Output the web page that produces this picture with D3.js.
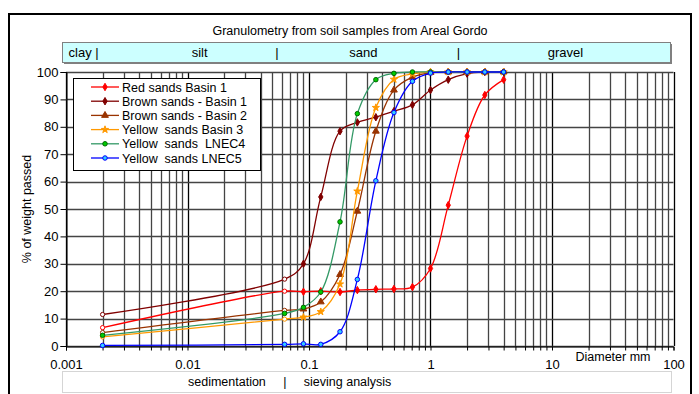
<!DOCTYPE html>
<html>
<head>
<meta charset="utf-8">
<script src="https://cdn.jsdelivr.net/npm/d3@7"></script>
<style>
  body { margin: 0; background: #fff; }
  svg { font-family: "Liberation Sans", Arial, sans-serif; }
</style>
</head>
<body>
<div id="chart"></div>
<script>
var width = 699, height = 394;
// plot area
var margin = {top: 72, right: 25, bottom: 48, left: 66};

// sieve / sedimentation diameters (mm)
const diameters = [0.002, 0.063, 0.09, 0.125, 0.18, 0.25, 0.355, 0.5, 0.71, 1, 1.4, 2, 2.8, 4];

// % of weight passed per sample
const redBasin1    = [6.7, 20.0, 19.8, 20.0, 19.7, 20.4, 20.7, 20.8, 21.5, 28.3, 51.4, 76.6, 91.6, 97.2];
const brownBasin1  = [11.5, 24.4, 30.0, 54.4, 78.4, 81.6, 83.5, 85.7, 88.0, 93.4, 97.2, 99.4, 100, 100];
const brownBasin2  = [4.9, 13.0, 13.5, 16.1, 26.1, 49.2, 78.4, 93.4, 98.1, 99.8, 100, 100, 100, 100];
const yellowBasin3 = [3.3, 9.8, 10.5, 12.5, 22.6, 56.5, 87.0, 97.3, 99.3, 100, 100, 100, 100, 100];
const yellowLnec4  = [3.9, 11.9, 14.1, 19.7, 45.3, 84.8, 97.2, 99.5, 100, 100, 100, 100, 100, 100];
const yellowLnec5  = [0.2, 0.6, 0.8, 0.6, 5.2, 24.3, 60.3, 85.2, 96.6, 99.6, 100, 100, 100, 100];

const seriesNames = ["Red sands Basin 1", "Brown sands - Basin 1", "Brown sands - Basin 2",
                     "Yellow  sands Basin 3", "Yellow  sands  LNEC4", "Yellow  sands LNEC5"];
const seriesValues = [redBasin1, brownBasin1, brownBasin2, yellowBasin3, yellowLnec4, yellowLnec5];

const yTicks = [0, 10, 20, 30, 40, 50, 60, 70, 80, 90, 100];
const xLabels = [0.001, 0.01, 0.1, 1, 10, 100];
const bandLabels = [
  {text: "clay |", x: 0.00105, anchor: "start"},
  {text: "silt", x: 0.0126, anchor: "middle"},
  {text: "|", x: 0.0545, anchor: "middle"},
  {text: "sand", x: 0.28, anchor: "middle"},
  {text: "|", x: 1.7, anchor: "middle"},
  {text: "gravel", x: 12.9, anchor: "middle"}
];

// look of each series
var styles = [
  {line: "#ff0000", fill: "#ff0000", stroke: "#ff0000", shape: d3.symbolDiamond, size: 16, hollowSed: true},
  {line: "#800000", fill: "#800000", stroke: "#800000", shape: d3.symbolDiamond, size: 16, hollowSed: true},
  {line: "#993300", fill: "#993300", stroke: "#993300", shape: d3.symbolTriangle, size: 20, hollowSed: true},
  {line: "#ff9900", fill: "#ff9900", stroke: "#ff9900", shape: d3.symbolStar, size: 16, hollowSed: true},
  {line: "#339966", fill: "#00cc00", stroke: "#006600", shape: d3.symbolCircle, size: 16, hollowSed: false},
  {line: "#0000ff", fill: "#33ccff", stroke: "#0000ff", shape: d3.symbolCircle, size: 16, hollowSed: false}
];

var svg = d3.select("#chart").append("svg")
    .attr("width", width)
    .attr("height", height);

// outer frame
svg.append("rect")
    .attr("x", 9).attr("y", 14)
    .attr("width", 682).attr("height", 392)
    .attr("fill", "none").attr("stroke", "#000").attr("stroke-width", 2);

svg.append("text")
    .attr("x", 350).attr("y", 35)
    .attr("text-anchor", "middle")
    .style("font-size", "12.5px")
    .text("Granulometry from soil samples from Areal Gordo");

var x = d3.scaleLog().domain([0.001, 100]).range([margin.left, width - margin.right - 0.5]);
var y = d3.scaleLinear().domain([0, 100]).range([height - margin.bottom, margin.top]);

// soil class band
svg.append("rect")
    .attr("x", 64).attr("y", 44).attr("width", 608).attr("height", 20)
    .attr("fill", "#808080");
svg.append("rect")
    .attr("x", 62.5).attr("y", 42.5).attr("width", 608).attr("height", 20)
    .attr("fill", "#ccffff").attr("stroke", "#808080");
svg.selectAll(".band")
    .data(bandLabels)
    .enter().append("text")
    .attr("x", function(d) { return x(d.x); })
    .attr("y", 57)
    .attr("text-anchor", function(d) { return d.anchor; })
    .style("font-size", "13px")
    .text(function(d) { return d.text; });

// grid lines
var gridX = [];
[0.001, 0.01, 0.1, 1, 10].forEach(function(dec) {
    for (var m = 1; m < 10; m++) gridX.push(dec * m);
});
gridX.push(100);

svg.append("g").selectAll("line")
    .data(gridX)
    .enter().append("line")
    .attr("x1", function(d) { return Math.round(x(d)) + 0.5; })
    .attr("x2", function(d) { return Math.round(x(d)) + 0.5; })
    .attr("y1", y(100)).attr("y2", y(0))
    .attr("stroke", function(d, i) { return i % 9 === 0 ? "#000" : "#444"; })
    .attr("stroke-width", 1.3);

svg.append("g").selectAll("line")
    .data(yTicks)
    .enter().append("line")
    .attr("x1", x(0.001)).attr("x2", x(100))
    .attr("y1", function(d) { return Math.round(y(d)) + 0.5; })
    .attr("y2", function(d) { return Math.round(y(d)) + 0.5; })
    .attr("stroke", "#444")
    .attr("stroke-width", 1.3);

// axes
var yAxis = svg.append("g")
    .attr("transform", "translate(" + (margin.left + 0.5) + ",0)")
    .call(d3.axisLeft(y).tickValues(yTicks).tickSize(6).tickPadding(2).tickFormat(d3.format("d")));
yAxis.selectAll("text").style("font-size", "13px").attr("fill", "#000");

var xAxis = svg.append("g")
    .attr("transform", "translate(0," + (y(0) + 0.5) + ")")
    .call(d3.axisBottom(x).tickValues(gridX).tickSize(4).tickPadding(9)
        .tickFormat(function(d) { return xLabels.indexOf(d) >= 0 ? String(d) : ""; }));
xAxis.selectAll("text").style("font-size", "13px").attr("fill", "#000");
xAxis.select(".domain").attr("stroke", "#000");

svg.append("text")
    .attr("transform", "translate(31," + 209 + ") rotate(-90)")
    .attr("text-anchor", "middle")
    .style("font-size", "12.5px")
    .text("% of weight passed");

svg.append("text")
    .attr("x", 613).attr("y", 361)
    .attr("text-anchor", "middle")
    .style("font-size", "12.5px")
    .text("Diameter mm");

// bottom note
svg.append("rect")
    .attr("x", 62.5).attr("y", 371.5).attr("width", 609).attr("height", 21)
    .attr("fill", "none").attr("stroke", "#aaa").attr("stroke-dasharray", "1,1");
svg.append("text")
    .attr("x", 188).attr("y", 386)
    .style("font-size", "12.5px")
    .attr("xml:space", "preserve")
    .text("sedimentation     |     sieving analysis");

// series
var line = d3.line()
    .x(function(d) { return x(d.d); })
    .y(function(d) { return y(d.v); })
    .curve(d3.curveCatmullRom.alpha(0.5));

var plot = svg.append("g");
seriesValues.forEach(function(vals, i) {
    var st = styles[i];
    var pts = vals.map(function(v, j) { return {d: diameters[j], v: v, j: j}; });
    var g = plot.append("g");
    g.append("path")
        .datum(pts)
        .attr("d", line)
        .attr("fill", "none")
        .attr("stroke", st.line)
        .attr("stroke-width", 1.3);
    g.selectAll("path.mk")
        .data(pts)
        .enter().append("path")
        .attr("class", "mk")
        .attr("transform", function(d) { return "translate(" + x(d.d) + "," + y(d.v) + ")"; })
        .attr("d", function(d) {
            if (st.hollowSed && d.j < 2) return d3.symbol(d3.symbolCircle, 14)();
            return d3.symbol(st.shape, st.size)();
        })
        .attr("fill", function(d) { return (st.hollowSed && d.j < 2) ? "#fff" : st.fill; })
        .attr("stroke", st.stroke)
        .attr("stroke-width", 1);
});

// legend
var legend = svg.append("g");
legend.append("rect")
    .attr("x", 73.5).attr("y", 78.5).attr("width", 187).attr("height", 92)
    .attr("fill", "#fff").attr("stroke", "#000");
var rows = legend.selectAll("g.row")
    .data(seriesNames)
    .enter().append("g")
    .attr("transform", function(d, i) { return "translate(0," + (87 + i * 14.2) + ")"; });
rows.append("line")
    .attr("x1", 91).attr("x2", 119).attr("y1", 0).attr("y2", 0)
    .attr("stroke", function(d, i) { return styles[i].line; })
    .attr("stroke-width", 1.3);
rows.append("path")
    .attr("transform", "translate(105,0)")
    .attr("d", function(d, i) { return d3.symbol(styles[i].shape, styles[i].size)(); })
    .attr("fill", function(d, i) { return styles[i].fill; })
    .attr("stroke", function(d, i) { return styles[i].stroke; });
rows.append("text")
    .attr("x", 122).attr("y", 4.5)
    .attr("xml:space", "preserve")
    .style("font-size", "12.5px")
    .text(function(d) { return d; });
</script>
</body>
</html>
